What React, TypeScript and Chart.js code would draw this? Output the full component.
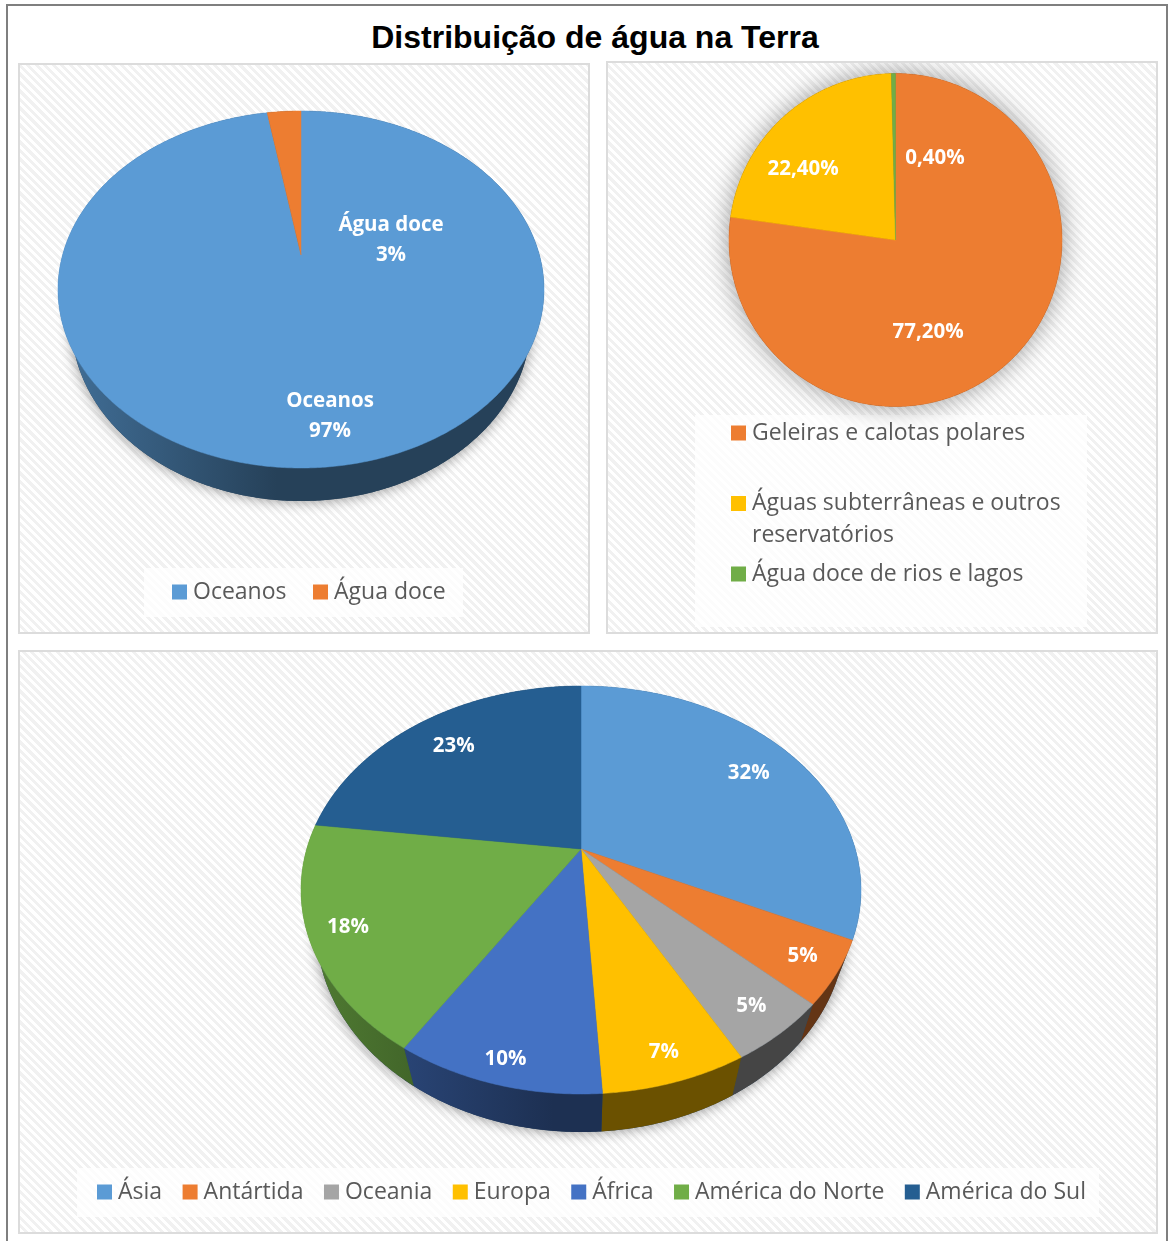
import React, { useEffect, useRef } from 'react';
import { Chart, registerables } from 'chart.js';

Chart.register(...registerables);

const mainTitle = 'Distribuição de água na Terra';

const oceanCategories = ['Oceanos', 'Água doce'];
const oceanValues = [97.3, 2.7];
const oceanColors = ['#5B9BD5', '#ED7D31'];

const freshCategories = ['Geleiras e calotas polares', 'Águas subterrâneas e outros reservatórios', 'Água doce de rios e lagos'];
const freshLegendLines = [['Geleiras e calotas polares', ''], ['Águas subterrâneas e outros', 'reservatórios'], ['Água doce de rios e lagos']];
const freshValues = [77.2, 22.4, 0.4];
const freshColors = ['#ED7D31', '#FFC000', '#70AD47'];

const continentCategories = ['Ásia', 'Antártida', 'Oceania', 'Europa', 'África', 'América do Norte', 'América do Sul'];
const continentValues = [32, 5, 5, 7, 10, 18, 23];
const continentColors = ['#5B9BD5', '#ED7D31', '#A5A5A5', '#FFC000', '#4472C4', '#70AD47', '#255E91'];

const LEGEND_FONT = 23;
const BOX_STROKE = 11;
const BOX_CORE = 4;

function shade(hex: string, f: number) {
  const n = parseInt(hex.slice(1), 16);
  return `rgb(${Math.round(((n >> 16) & 255) * f)},${Math.round(((n >> 8) & 255) * f)},${Math.round((n & 255) * f)})`;
}

const projectedPie = {
  id: 'projectedPie',
  afterLayout(chart: any, _a: any, o: any) {
    const l = chart.legend;
    const pad = o.legendPadding;
    const w = l.right - l.left;
    l.left = o.legendX + BOX_STROKE / 2 - pad;
    l.top = o.legendY - LEGEND_FONT / 2 - pad;
    l.right = chart.width;
    l.bottom = chart.height;
    void w;
  },
  beforeDatasetsDraw(chart: any, _a: any, o: any) {
    const ctx: CanvasRenderingContext2D = chart.ctx;
    const arcs = chart.getDatasetMeta(0).data;
    const colors: string[] = chart.data.datasets[0].backgroundColor;
    const p = (o.fall - o.rise) / (o.fall + o.rise);
    const b = o.fall * (1 - p);
    const a = o.halfWidth * Math.sqrt(1 - p * p);
    const project = (t: number, r = 1) => {
      const u = r * Math.cos(t);
      const v = r * Math.sin(t);
      const w = 1 - p * v;
      return [o.cx + (a * u) / w, o.cy + (b * v) / w];
    };
    const lower = (pt: number[]) => [o.cx + (pt[0] - o.cx) * o.taper, pt[1] + o.depth];
    const rim = (s: number, e: number) => {
      const n = Math.max(2, Math.ceil((e - s) / 0.008));
      const pts: number[][] = [];
      for (let i = 0; i <= n; i++) pts.push(project(s + ((e - s) * i) / n));
      return pts;
    };
    const trace = (pts: number[][]) => {
      ctx.beginPath();
      pts.forEach((q, i) => (i ? ctx.lineTo(q[0], q[1]) : ctx.moveTo(q[0], q[1])));
      ctx.closePath();
    };
    const full = rim(0, Math.PI * 2);

    ctx.save();
    ctx.shadowColor = o.shadowColor;
    ctx.shadowBlur = o.shadowBlur;
    ctx.fillStyle = shade(colors[0], 0.42);
    if (o.depth > 0) {
      trace(full.map(lower));
      ctx.fill();
    } else {
      trace(full);
      ctx.fill();
    }
    ctx.restore();

    if (o.depth > 0) {
      arcs.forEach((arc: any, i: number) => {
        const top = rim(arc.startAngle, arc.endAngle);
        const bottom = top.map(lower).reverse();
        const g = ctx.createLinearGradient(o.cx - o.halfWidth, 0, o.cx - 0.1 * o.halfWidth, 0);
        g.addColorStop(0, shade(colors[i], 0.72));
        g.addColorStop(1, shade(colors[i], 0.42));
        trace(top.concat(bottom));
        ctx.fillStyle = g;
        ctx.fill();
      });
    }

    arcs.forEach((arc: any, i: number) => {
      trace([[o.cx, o.cy], ...rim(arc.startAngle, arc.endAngle)]);
      ctx.fillStyle = colors[i];
      ctx.strokeStyle = colors[i];
      ctx.lineWidth = 0.5;
      ctx.fill();
      ctx.stroke();
    });

    ctx.save();
    ctx.fillStyle = '#FFFFFF';
    ctx.font = 'bold 20.5px "Open Sans"';
    ctx.textAlign = 'center';
    ctx.textBaseline = 'middle';
    arcs.forEach((arc: any, i: number) => {
      const t = o.labelAngles
        ? (o.labelAngles[i] * Math.PI) / 180 - Math.PI / 2
        : (arc.startAngle + arc.endAngle) / 2;
      const [x, y] = project(t, o.labelRadii[i]);
      const lines: string[] = o.labelLines(i);
      lines.forEach((line, k) => {
        ctx.fillText(line, x, y + (k - (lines.length - 1) / 2) * 30);
      });
    });
    ctx.restore();
    return false;
  },
};

function PieCanvas({ panel, labels, values, colors, legendText, legendPos, legendPadding, lineHeight, geometry }: any) {
  const ref = useRef<HTMLCanvasElement>(null);
  useEffect(() => {
    const chart = new Chart(ref.current as HTMLCanvasElement, {
      type: 'pie',
      data: { labels, datasets: [{ data: values, backgroundColor: colors, borderWidth: 0 }] },
      plugins: [projectedPie],
      options: {
        animation: false,
        responsive: false,
        maintainAspectRatio: false,
        plugins: {
          title: { display: false },
          tooltip: { enabled: false },
          legend: {
            display: true,
            position: legendPos,
            align: 'start',
            labels: {
              boxWidth: BOX_CORE,
              boxHeight: BOX_CORE,
              padding: legendPadding,
              color: '#595959',
              font: { family: '"Open Sans"', size: LEGEND_FONT, lineHeight },
              generateLabels: () =>
                labels.map((_l: string, i: number) => ({
                  text: legendText ? legendText[i] : labels[i],
                  fillStyle: colors[i],
                  strokeStyle: colors[i],
                  lineWidth: BOX_STROKE,
                  lineJoin: 'miter',
                  fontColor: '#595959',
                  hidden: false,
                  index: i,
                })),
            },
          },
          projectedPie: { legendPadding, ...geometry },
        },
      } as any,
    });
    return () => chart.destroy();
  }, []);
  return (
    <canvas
      ref={ref}
      width={panel.w}
      height={panel.h}
      style={{ position: 'absolute', left: 0, top: 0, width: panel.w, height: panel.h }}
    />
  );
}

function Panel({ panel, legendBox, children }: any) {
  return (
    <div
      style={{
        position: 'absolute',
        left: panel.x,
        top: panel.y,
        width: panel.w,
        height: panel.h,
        outline: '2px solid #DCDCDC',
        backgroundImage: 'repeating-linear-gradient(45deg, #FFFFFF 0 3px, #F1F1F1 3px 6px)',
      }}
    >
      <div
        style={{
          position: 'absolute',
          left: legendBox.x - panel.x,
          top: legendBox.y - panel.y,
          width: legendBox.w,
          height: legendBox.h,
          background: 'rgba(255,255,255,0.75)',
        }}
      />
      {children}
    </div>
  );
}

const panelA = { x: 20, y: 65, w: 568, h: 567 };
const panelB = { x: 608, y: 63, w: 548, h: 569 };
const panelC = { x: 20, y: 652, w: 1136, h: 580 };

export default function App() {
  return (
    <div style={{ position: 'absolute', left: 0, top: 0, width: 1173, height: 1241, background: '#FFFFFF', overflow: 'hidden' }}>
      <div style={{ position: 'absolute', left: 6, top: 4, width: 1162, height: 1240, border: '2px solid #7F7F7F', boxSizing: 'border-box' }} />
      <div
        style={{
          position: 'absolute',
          left: 0,
          width: 1190,
          top: 18,
          textAlign: 'center',
          font: 'bold 32px "Liberation Sans"',
          lineHeight: '38px',
          color: '#000000',
        }}
      >
        {mainTitle}
      </div>

      <Panel panel={panelA} legendBox={{ x: 144, y: 568, w: 319, h: 49 }}>
        <PieCanvas
          panel={panelA}
          labels={oceanCategories}
          values={oceanValues}
          colors={oceanColors}
          legendPos="bottom"
          legendPadding={32}
          geometry={{
            legendX: 172 - panelA.x,
            legendY: 592 - panelA.y,
            cx: 301 - panelA.x,
            cy: 255 - panelA.y,
            rise: 144,
            fall: 213,
            halfWidth: 243,
            depth: 33,
            taper: 0.945,
            shadowColor: 'rgba(0,0,0,0.45)',
            shadowBlur: 14,
            labelAngles: [172.6, 77],
            labelRadii: [0.8, 0.394],
            labelLines: (i: number) => [oceanCategories[i], `${Math.round(oceanValues[i])}%`],
          }}
        />
      </Panel>

      <Panel panel={panelB} legendBox={{ x: 695, y: 415, w: 392, h: 212 }}>
        <PieCanvas
          panel={panelB}
          labels={freshCategories}
          values={freshValues}
          colors={freshColors}
          legendText={freshLegendLines}
          legendPos="right"
          legendPadding={6.5}
          lineHeight="32px"
          geometry={{
            legendX: 731 - panelB.x,
            legendY: 433 - panelB.y,
            cx: 895.5 - panelB.x,
            cy: 240 - panelB.y,
            rise: 166.5,
            fall: 166.5,
            halfWidth: 166.5,
            depth: 0,
            taper: 1,
            shadowColor: 'rgba(0,0,0,0.4)',
            shadowBlur: 26,
            labelAngles: [160.5, 307.5, 25.7],
            labelRadii: [0.586, 0.7, 0.546],
            labelLines: (i: number) => [`${freshValues[i].toFixed(2).replace('.', ',')}%`],
          }}
        />
      </Panel>

      <Panel panel={panelC} legendBox={{ x: 77, y: 1168, w: 1022, h: 49 }}>
        <PieCanvas
          panel={panelC}
          labels={continentCategories}
          values={continentValues}
          colors={continentColors}
          legendPos="bottom"
          legendPadding={26}
          geometry={{
            legendX: 97 - panelC.x,
            legendY: 1192 - panelC.y,
            cx: 581 - panelC.x,
            cy: 849 - panelC.y,
            rise: 163,
            fall: 245,
            halfWidth: 280,
            depth: 38,
            taper: 0.945,
            shadowColor: 'rgba(0,0,0,0.45)',
            shadowBlur: 14,
            labelRadii: [0.786, 0.88, 0.873, 0.895, 0.91, 0.869, 0.784],
            labelLines: (i: number) => [`${continentValues[i]}%`],
          }}
        />
      </Panel>
    </div>
  );
}
